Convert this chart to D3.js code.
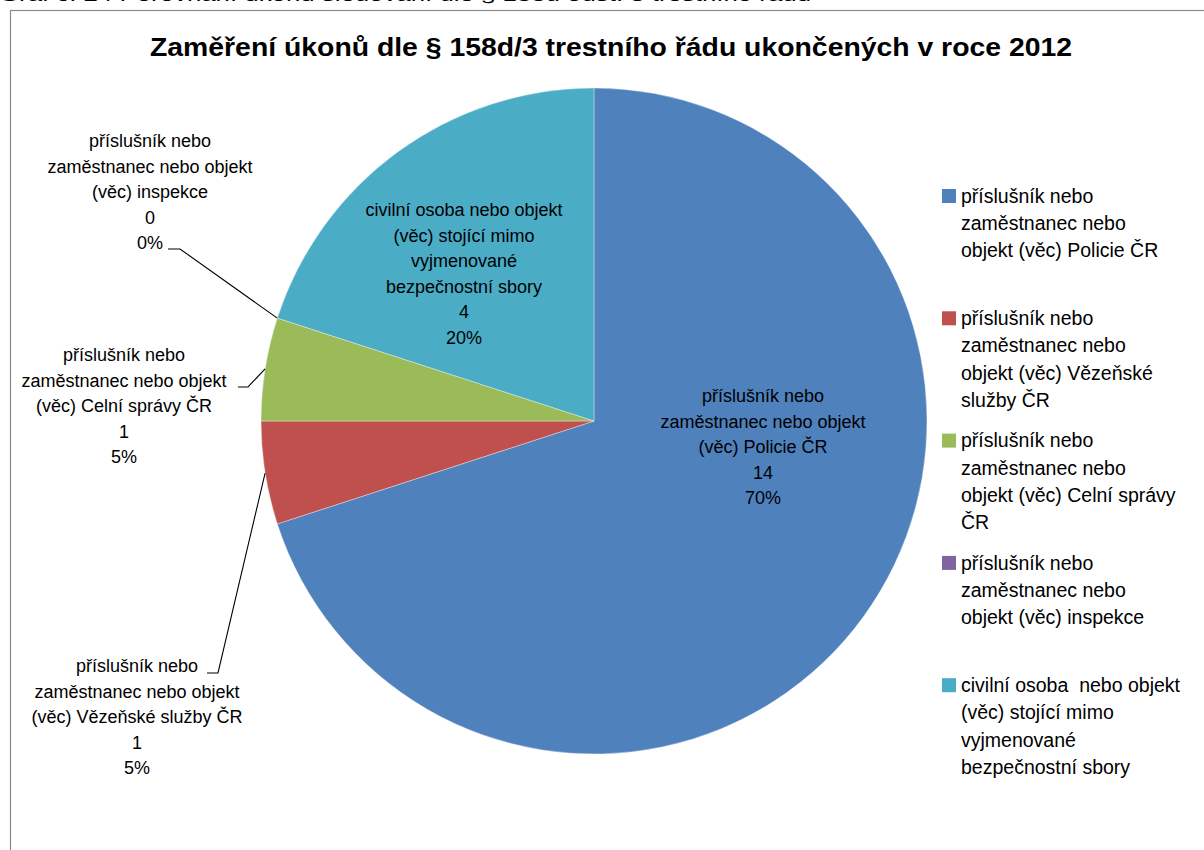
<!DOCTYPE html>
<html>
<head>
<meta charset="utf-8">
<script src="https://cdn.jsdelivr.net/npm/d3@7"></script>
<style>
  html,body{margin:0;padding:0;background:#fff;overflow:hidden;}
  svg{display:block;}
</style>
</head>
<body>
<svg id="chart" width="1204" height="850"></svg>
<script>
// data
const CATEGORIES = [
  "příslušník nebo zaměstnanec nebo objekt (věc) Policie ČR",
  "příslušník nebo zaměstnanec nebo objekt (věc) Vězeňské služby ČR",
  "příslušník nebo zaměstnanec nebo objekt (věc) Celní správy ČR",
  "příslušník nebo zaměstnanec nebo objekt (věc) inspekce",
  "civilní osoba nebo objekt (věc) stojící mimo vyjmenované bezpečnostní sbory"
];
const VALUES = [14, 1, 1, 0, 4];
const COLORS = ["#4f81bd", "#c0504d", "#9bbb59", "#8064a2", "#4bacc6"];

// how each category is broken into lines (label in the pie / legend)
const LABEL_LINES = [
  ["příslušník nebo", "zaměstnanec nebo objekt", "(věc) Policie ČR"],
  ["příslušník nebo", "zaměstnanec nebo objekt", "(věc) Vězeňské služby ČR"],
  ["příslušník nebo", "zaměstnanec nebo objekt", "(věc) Celní správy ČR"],
  ["příslušník nebo", "zaměstnanec nebo objekt", "(věc) inspekce"],
  ["civilní osoba nebo objekt", "(věc) stojící mimo", "vyjmenované", "bezpečnostní sbory"]
];
const LEGEND_LINES = [
  ["příslušník nebo", "zaměstnanec nebo", "objekt (věc) Policie ČR"],
  ["příslušník nebo", "zaměstnanec nebo", "objekt (věc) Vězeňské", "služby ČR"],
  ["příslušník nebo", "zaměstnanec nebo", "objekt (věc) Celní správy", "ČR"],
  ["příslušník nebo", "zaměstnanec nebo", "objekt (věc) inspekce"],
  ["civilní osoba  nebo objekt", "(věc) stojící mimo", "vyjmenované", "bezpečnostní sbory"]
];

const TITLE = "Zaměření úkonů dle § 158d/3 trestního řádu ukončených v roce 2012";
const CAPTION = "Graf č. 24 Porovnání úkonů sledování dle § 158d odst. 3 trestního řádu";

// layout
const CX = 594, CY = 421, R = 333;
const FONT = "'Liberation Sans', Arial, sans-serif";
// label centre (x, y of first line) and leader elbow for outside labels
const LABEL_POS = [
  { x: 763, y: 396, lead: null },
  { x: 137, y: 666, lead: { ex: 218, ey: 673, tx: 207 } },
  { x: 124, y: 355, lead: { ex: 248, ey: 387, tx: 238 } },
  { x: 150, y: 141, lead: { ex: 180, ey: 249, tx: 168 }, edgeAt: "start" },
  { x: 464, y: 210, lead: null }
];
const LINE_H = 25.5;

const svg = d3.select("#chart");

// caption cut off at the top of the picture
svg.append("text").attr("x", -1).attr("y", 1)
  .attr("fill", "#000").style("font-family", FONT).style("font-size", "19px")
  .attr("textLength", 812).attr("lengthAdjust", "spacingAndGlyphs")
  .text(CAPTION);

// chart frame (only left and top edges are inside the picture)
svg.append("rect").attr("x", 10.5).attr("y", 10.5).attr("width", 1300).attr("height", 1000)
  .attr("fill", "#fff").attr("stroke", "#8a8a8a").attr("stroke-width", 1.2);

// title
svg.append("text").attr("x", 611).attr("y", 56).attr("text-anchor", "middle")
  .attr("fill", "#000").style("font-family", FONT).style("font-size", "26px").style("font-weight", "bold")
  .attr("textLength", 922).attr("lengthAdjust", "spacingAndGlyphs")
  .text(TITLE);

const data = CATEGORIES.map((c, i) => ({ name: c, value: VALUES[i], i }));
const total = d3.sum(VALUES);

const pie = d3.pie().value(d => d.value).sort(null).startAngle(0).endAngle(2 * Math.PI);
const arcs = pie(data);
const arc = d3.arc().innerRadius(0).outerRadius(R);

const g = svg.append("g").attr("transform", `translate(${CX},${CY})`);
g.selectAll("path.slice").data(arcs.filter(d => d.value > 0)).join("path")
  .attr("class", "slice")
  .attr("d", arc)
  .attr("fill", d => COLORS[d.data.i])
  .attr("stroke", "#ffffff").attr("stroke-opacity", 0.45).attr("stroke-width", 0.8);

// leaders
arcs.forEach(a => {
  const p = LABEL_POS[a.data.i];
  if (!p.lead) return;
  const ang = p.edgeAt === "start" ? a.startAngle : (a.startAngle + a.endAngle) / 2;
  const sx = CX + R * Math.sin(ang), sy = CY - R * Math.cos(ang);
  svg.append("path")
    .attr("d", d3.line()([[sx, sy], [p.lead.ex, p.lead.ey], [p.lead.tx, p.lead.ey]]))
    .attr("fill", "none").attr("stroke", "#000").attr("stroke-width", 1.1);
});

// data labels: category, value, percent
const fmtPct = d3.format(".0%");
arcs.forEach(a => {
  const i = a.data.i, p = LABEL_POS[i];
  const lines = LABEL_LINES[i].concat([String(VALUES[i]), fmtPct(VALUES[i] / total)]);
  const t = svg.append("text").attr("text-anchor", "middle")
    .attr("fill", "#000").style("font-family", FONT).style("font-size", "18px");
  lines.forEach((ln, li) => {
    t.append("tspan").attr("x", p.x).attr("y", p.y + li * LINE_H).attr("dy", "0.35em").text(ln);
  });
});

// legend
const LEG_X = 942, LEG_Y = 196, LEG_STEP = 122.3, LEG_LH = 27.3;
const leg = svg.append("g");
CATEGORIES.forEach((c, i) => {
  const y0 = LEG_Y + i * LEG_STEP;
  leg.append("rect").attr("x", LEG_X).attr("y", y0 - 7).attr("width", 14).attr("height", 14)
    .attr("fill", COLORS[i]);
  const t = leg.append("text").attr("fill", "#000")
    .style("font-family", FONT).style("font-size", "19.5px").style("white-space", "pre");
  LEGEND_LINES[i].forEach((ln, li) => {
    t.append("tspan").attr("x", LEG_X + 19).attr("y", y0 + li * LEG_LH).attr("dy", "0.35em").text(ln);
  });
});
</script>
</body>
</html>
